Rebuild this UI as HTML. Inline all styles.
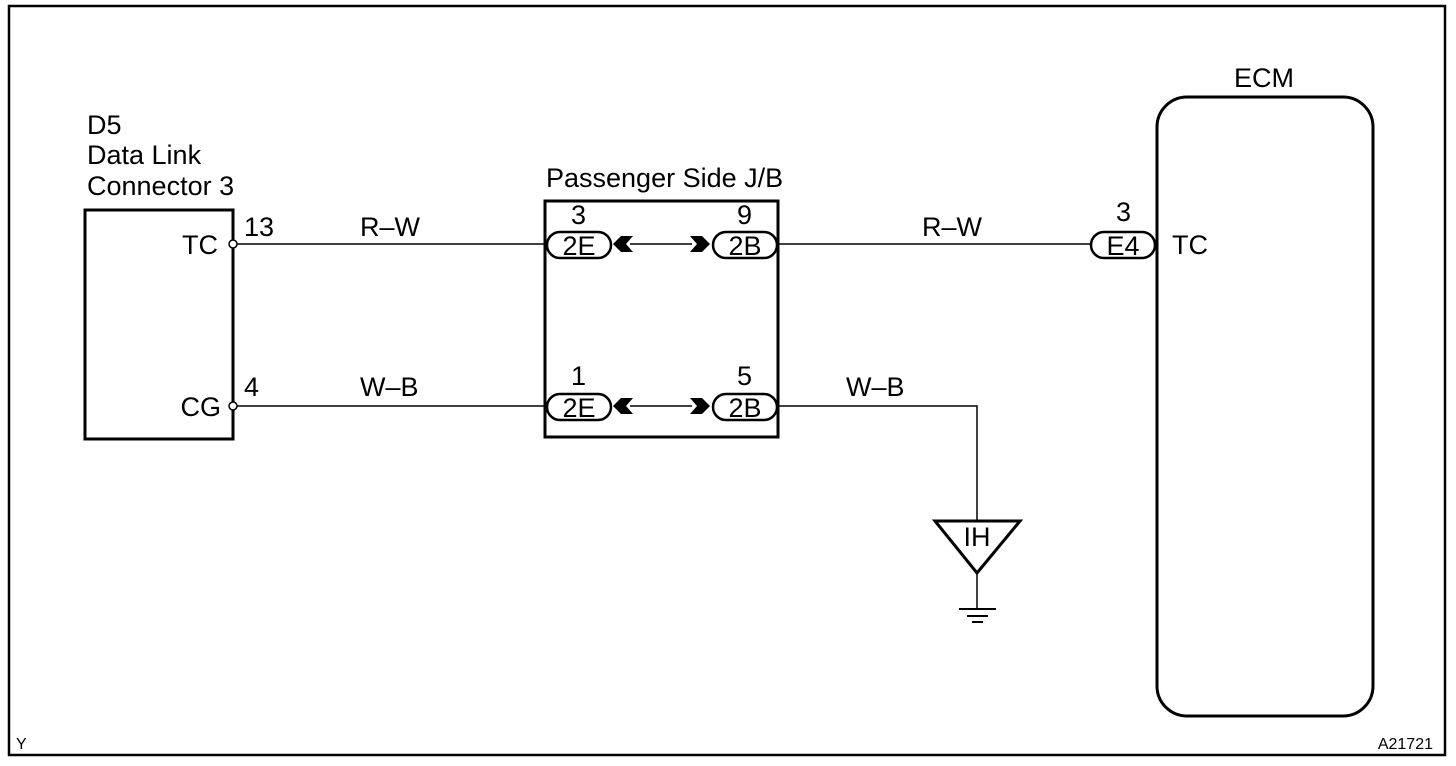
<!DOCTYPE html>
<html><head><style>body{margin:0;background:#fff}svg{display:block}text{font-family:"Liberation Sans",Arial,sans-serif;fill:#000}</style></head><body>
<svg width="1456" height="766" viewBox="0 0 1456 766" xmlns="http://www.w3.org/2000/svg">
<rect x="9" y="6" width="1436" height="749" fill="none" stroke="#000" stroke-width="2.5"/>
<g font-size="27">
<text x="87" y="134">D5</text>
<text x="87" y="164">Data Link</text>
<text x="87" y="195">Connector 3</text>
<text x="546" y="187">Passenger Side J/B</text>
<text x="1234" y="87">ECM</text>
</g>
<rect x="85" y="210" width="148" height="229" fill="none" stroke="#000" stroke-width="3"/>
<g font-size="27">
<text x="218" y="254" text-anchor="end">TC</text><text x="221" y="416" text-anchor="end">CG</text>
<text x="244" y="236">13</text><text x="244" y="396">4</text>
<text x="360" y="236">R–W</text><text x="360" y="396">W–B</text>
<text x="922" y="236">R–W</text><text x="846" y="396">W–B</text>
<text x="571" y="224">3</text><text x="737" y="224">9</text>
<text x="571" y="385">1</text><text x="737" y="385">5</text>
<text x="1116" y="221">3</text><text x="1172" y="254">TC</text>
</g>
<g stroke="#000" stroke-width="1.5" fill="none">
<line x1="237" y1="244" x2="547" y2="244"/><line x1="237" y1="406" x2="547" y2="406"/>
<line x1="630" y1="244" x2="692" y2="244"/><line x1="630" y1="406" x2="692" y2="406"/>
<line x1="778" y1="244" x2="1091" y2="244"/>
<polyline points="778,406 977,406 977,520"/>
<line x1="977" y1="573" x2="977" y2="609"/>
</g>
<rect x="545" y="201" width="233" height="236" fill="none" stroke="#000" stroke-width="3"/>
<circle cx="233" cy="244" r="4" fill="#fff" stroke="#000" stroke-width="1.5"/>
<circle cx="233" cy="406" r="4" fill="#fff" stroke="#000" stroke-width="1.5"/>
<g stroke="#000" stroke-width="2.5" fill="#fff">
<rect x="547" y="232" width="64" height="26" rx="13"/><rect x="713" y="232" width="64" height="26" rx="13"/>
<rect x="547" y="394" width="64" height="26" rx="13"/><rect x="713" y="394" width="64" height="26" rx="13"/>
<rect x="1091" y="232" width="64" height="26" rx="13"/>
</g>
<g font-size="27" text-anchor="middle">
<text x="579" y="255">2E</text><text x="745" y="255">2B</text>
<text x="579" y="417">2E</text><text x="745" y="417">2B</text>
<text x="1123" y="255">E4</text>
</g>
<g fill="#000">
<polygon points="613,244 621,236 633,236 626,244 633,252 621,252"/>
<polygon points="613,406 621,398 633,398 626,406 633,414 621,414"/>
<polygon points="710,244 702,236 690,236 697,244 690,252 702,252"/>
<polygon points="710,406 702,398 690,398 697,406 690,414 702,414"/>
</g>
<rect x="1157" y="97" width="216" height="619" rx="30" fill="none" stroke="#000" stroke-width="3"/>
<polygon points="935,521 1020,521 977,573" fill="none" stroke="#000" stroke-width="3"/>
<text x="977" y="546" font-size="27" text-anchor="middle">IH</text>
<g stroke="#000" stroke-width="2"><line x1="959" y1="609" x2="996" y2="609"/><line x1="967" y1="616" x2="988" y2="616"/><line x1="972" y1="622" x2="983" y2="622"/></g>
<text x="16" y="749" font-size="16">Y</text>
<text x="1433" y="749" font-size="16" text-anchor="end">A21721</text>
</svg>
</body></html>
